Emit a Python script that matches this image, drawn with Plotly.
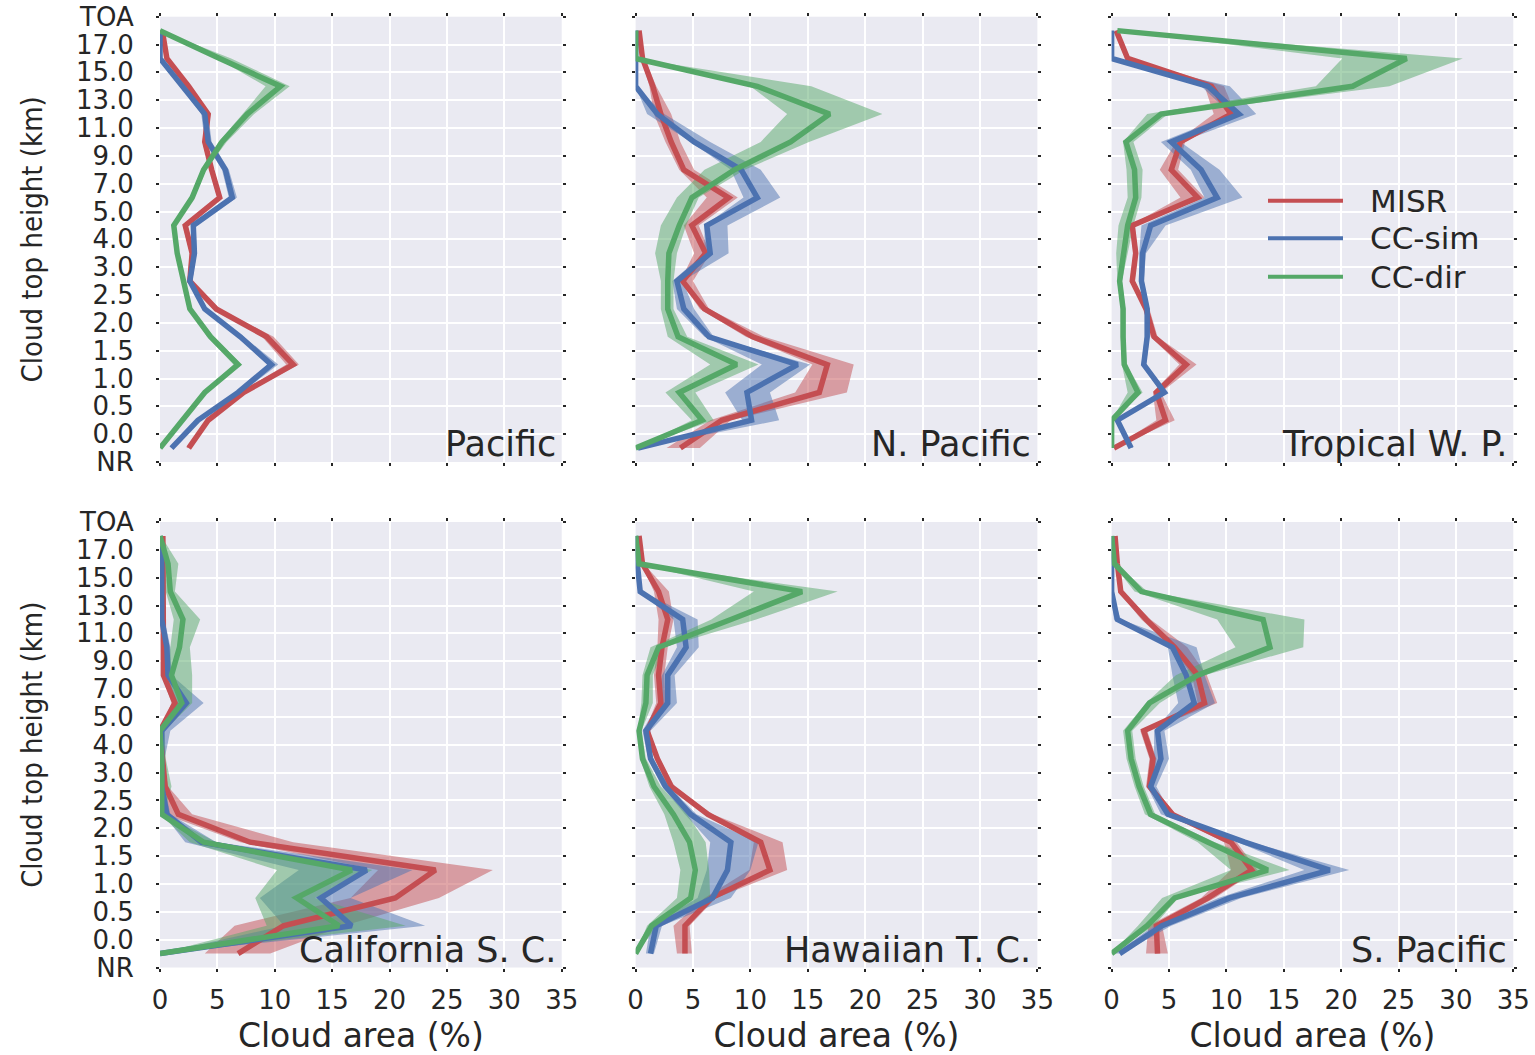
import plotly.graph_objects as go
from plotly.subplots import make_subplots

# ---------------- data ----------------
height_labels = ["NR", "0.0", "0.5", "1.0", "1.5", "2.0", "2.5", "3.0", "4.0",
                 "5.0", "7.0", "9.0", "11.0", "13.0", "15.0", "17.0", "TOA"]
bins = list(range(16))            # bin index: 0 = NR bin ... 15 = 17.0-TOA bin
area_ticks = [0, 5, 10, 15, 20, 25, 30, 35]
regions = ["Pacific", "N. Pacific", "Tropical W. P.",
           "California S. C.", "Hawaiian T. C.", "S. Pacific"]
series_names = ["MISR", "CC-sim", "CC-dir"]

# Pacific
pac_misr    = [2.5, 4.2, 7.3, 11.6, 9.3, 4.9, 2.6, 2.8, 2.2, 5.2, 4.5, 3.9, 4.2, 2.5, 0.6, 0.2]
pac_misr_lo = [2.3, 4.0, 7.0, 11.0, 8.9, 4.6, 2.4, 2.6, 2.0, 5.0, 4.3, 3.7, 4.0, 2.3, 0.5, 0.1]
pac_misr_hi = [2.7, 4.4, 7.6, 12.1, 9.9, 5.2, 2.8, 3.0, 2.4, 5.4, 4.7, 4.1, 4.4, 2.7, 0.7, 0.3]
pac_sim     = [1.0, 3.3, 6.8, 9.7, 7.0, 3.9, 2.6, 3.0, 2.9, 6.3, 5.7, 4.2, 3.9, 2.0, 0.0, 0.0]
pac_sim_lo  = [0.9, 3.1, 6.6, 9.4, 6.8, 3.7, 2.4, 2.8, 2.7, 6.0, 5.4, 3.9, 3.6, 1.8, 0.0, 0.0]
pac_sim_hi  = [1.1, 3.5, 7.1, 10.3, 7.3, 4.1, 2.8, 3.2, 3.1, 6.7, 6.0, 4.5, 4.2, 2.2, 0.1, 0.0]
pac_dir     = [0.0, 2.0, 3.9, 6.8, 4.4, 2.6, 2.0, 1.5, 1.2, 2.8, 3.8, 5.4, 7.6, 10.5, 5.2, 0.0]
pac_dir_lo  = [0.0, 1.9, 3.7, 6.4, 4.1, 2.5, 1.9, 1.4, 1.1, 2.6, 3.6, 5.1, 7.2, 9.2, 5.0, 0.0]
pac_dir_hi  = [0.0, 2.1, 4.1, 7.1, 4.7, 2.7, 2.1, 1.6, 1.3, 3.0, 4.0, 5.8, 8.2, 11.3, 6.2, 0.0]

# N. Pacific
npac_misr    = [3.9, 7.5, 16.0, 16.7, 10.2, 6.0, 4.1, 6.1, 4.9, 8.1, 4.2, 3.1, 2.2, 1.5, 0.6, 0.3]
npac_misr_lo = [2.7, 6.5, 13.9, 15.4, 9.6, 5.6, 3.9, 5.1, 4.2, 6.2, 3.8, 2.6, 1.6, 1.2, 0.5, 0.2]
npac_misr_hi = [5.6, 8.3, 18.4, 19.0, 11.2, 6.4, 5.0, 6.5, 5.5, 8.9, 5.1, 3.9, 3.1, 1.8, 0.8, 0.4]
npac_sim     = [0.2, 10.1, 9.7, 14.1, 6.4, 4.2, 3.6, 6.5, 6.2, 10.6, 9.2, 5.1, 1.9, 0.0, 0.0, 0.0]
npac_sim_lo  = [0.1, 9.3, 7.8, 11.0, 6.0, 3.6, 3.2, 6.0, 6.0, 9.4, 8.3, 4.8, 1.0, 0.0, 0.0, 0.0]
npac_sim_hi  = [0.3, 12.5, 11.7, 15.2, 6.8, 5.1, 4.1, 8.1, 8.0, 12.6, 10.9, 6.5, 2.5, 0.0, 0.0, 0.0]
npac_dir     = [0.0, 5.8, 3.8, 8.8, 3.7, 2.8, 2.8, 2.9, 3.8, 4.9, 8.6, 13.5, 16.9, 10.6, 0.0, 0.0]
npac_dir_lo  = [0.0, 4.9, 2.6, 6.5, 2.8, 2.2, 2.2, 1.7, 2.2, 3.6, 6.0, 10.9, 13.2, 10.0, 0.0, 0.0]
npac_dir_hi  = [0.0, 6.8, 5.2, 10.7, 4.5, 3.3, 3.3, 3.6, 4.4, 5.5, 9.5, 15.1, 21.5, 15.3, 0.0, 0.0]

# Tropical W. P.
twp_misr    = [0.2, 4.7, 3.9, 6.5, 3.7, 3.0, 1.8, 2.1, 1.8, 7.5, 5.2, 6.0, 10.4, 8.7, 1.4, 0.4]
twp_misr_lo = [0.1, 3.9, 3.6, 5.9, 3.4, 2.8, 1.6, 1.9, 1.6, 6.0, 4.2, 5.6, 8.9, 8.1, 1.2, 0.3]
twp_misr_hi = [0.3, 5.5, 4.3, 7.4, 4.0, 3.3, 2.0, 2.3, 2.0, 8.1, 5.8, 6.4, 10.8, 9.8, 1.6, 0.5]
twp_sim     = [1.7, 0.5, 4.6, 2.8, 3.1, 3.1, 2.6, 2.7, 3.4, 9.2, 7.8, 5.2, 11.1, 8.4, 0.0, 0.0]
twp_sim_lo  = [1.5, 0.4, 4.3, 2.6, 2.9, 2.9, 2.4, 2.4, 2.6, 8.1, 6.9, 4.3, 10.4, 7.8, 0.0, 0.0]
twp_sim_hi  = [1.9, 0.6, 4.9, 3.0, 3.3, 3.3, 2.8, 3.0, 4.7, 11.4, 9.4, 6.0, 12.6, 10.3, 0.0, 0.0]
twp_dir     = [0.0, 0.0, 2.3, 1.1, 1.0, 1.0, 0.7, 1.0, 1.4, 2.1, 2.0, 1.25, 4.3, 21.0, 25.7, 0.5]
twp_dir_lo  = [0.0, 0.0, 1.4, 0.9, 0.8, 0.8, 0.5, 0.4, 0.6, 1.4, 1.3, 1.0, 3.1, 17.8, 20.1, 0.4]
twp_dir_hi  = [0.0, 0.0, 2.7, 1.3, 1.2, 1.2, 0.9, 1.4, 1.9, 2.6, 2.7, 1.9, 4.9, 24.2, 30.6, 0.6]

# California S. C.
csc_misr    = [6.8, 10.75, 20.5, 24.0, 7.85, 1.6, 0.45, 0.2, 0.0, 1.3, 0.3, 0.3, 0.3, 0.3, 0.3, 0.25]
csc_misr_lo = [3.9, 6.5, 16.6, 19.0, 7.0, 0.4, 0.2, 0.1, 0.0, 1.0, 0.2, 0.2, 0.2, 0.2, 0.2, 0.2]
csc_misr_hi = [9.6, 16.0, 24.3, 29.0, 11.6, 2.8, 0.7, 0.3, 0.1, 1.6, 0.4, 0.4, 0.4, 0.4, 0.4, 0.3]
csc_sim     = [0.0, 16.7, 14.0, 18.0, 3.6, 0.6, 0.15, 0.15, 0.15, 2.3, 0.7, 0.6, 0.15, 0.15, 0.15, 0.0]
csc_sim_lo  = [0.0, 10.8, 8.7, 12.1, 2.2, 0.3, 0.0, 0.0, 0.0, 1.5, 0.4, 0.3, 0.0, 0.0, 0.0, 0.0]
csc_sim_hi  = [0.1, 23.1, 16.6, 22.0, 4.9, 0.9, 0.4, 0.4, 0.9, 3.8, 1.0, 0.9, 0.4, 0.3, 0.3, 0.1]
csc_dir     = [0.0, 15.6, 11.9, 16.7, 3.8, 0.15, 0.15, 0.15, 0.0, 1.9, 1.0, 1.7, 2.0, 0.9, 0.7, 0.0]
csc_dir_lo  = [0.0, 9.3, 8.3, 10.2, 2.6, 0.0, 0.0, 0.0, 0.0, 1.2, 0.6, 0.9, 1.2, 0.5, 0.0, 0.0]
csc_dir_hi  = [0.1, 21.4, 13.5, 18.5, 4.9, 0.3, 1.0, 0.5, 0.4, 2.8, 2.8, 2.6, 3.5, 1.3, 1.6, 0.1]

# Hawaiian T. C.
htc_misr    = [4.3, 4.3, 6.6, 11.7, 10.9, 6.3, 3.1, 1.9, 1.0, 2.2, 2.0, 2.3, 2.8, 2.0, 0.6, 0.3]
htc_misr_lo = [3.6, 3.3, 6.0, 9.9, 10.3, 6.0, 2.9, 1.7, 0.8, 1.8, 1.6, 1.9, 2.0, 1.6, 0.5, 0.2]
htc_misr_hi = [4.9, 4.7, 7.0, 13.2, 12.8, 6.7, 3.4, 2.1, 1.2, 2.6, 2.5, 2.8, 3.3, 2.9, 0.7, 0.4]
htc_sim     = [1.3, 1.8, 6.7, 8.0, 8.3, 4.8, 2.6, 1.3, 0.9, 2.8, 2.8, 4.4, 4.1, 0.4, 0.15, 0.0]
htc_sim_lo  = [0.9, 1.3, 5.4, 6.2, 6.5, 4.3, 2.3, 1.1, 0.6, 2.0, 2.3, 3.6, 3.3, 0.3, 0.1, 0.0]
htc_sim_hi  = [1.6, 2.3, 8.3, 10.0, 10.7, 5.3, 2.9, 1.5, 1.3, 3.6, 3.4, 5.5, 5.4, 0.6, 0.2, 0.1]
htc_dir     = [0.0, 1.4, 4.8, 5.2, 4.7, 3.3, 1.6, 0.6, 0.3, 0.9, 1.0, 2.0, 8.3, 14.5, 0.3, 0.0]
htc_dir_lo  = [0.0, 1.0, 3.6, 3.9, 3.3, 2.5, 1.2, 0.4, 0.2, 0.5, 0.6, 1.3, 6.6, 10.3, 0.2, 0.0]
htc_dir_hi  = [0.1, 1.9, 6.5, 6.4, 6.1, 4.5, 2.2, 0.9, 0.5, 1.5, 1.5, 2.5, 10.5, 17.6, 0.4, 0.1]

# S. Pacific
spac_misr    = [4.0, 3.9, 8.4, 12.2, 10.4, 5.3, 3.3, 3.6, 2.8, 8.1, 7.5, 5.5, 3.0, 0.8, 0.5, 0.3]
spac_misr_lo = [3.0, 3.2, 7.8, 10.4, 9.8, 5.0, 3.0, 3.3, 2.5, 7.5, 7.0, 5.2, 2.6, 0.6, 0.4, 0.2]
spac_misr_hi = [4.9, 4.4, 9.0, 12.7, 10.9, 5.6, 3.6, 3.9, 3.1, 9.2, 8.3, 6.6, 3.4, 1.0, 0.6, 0.4]
spac_sim     = [0.7, 4.4, 10.3, 19.0, 11.6, 4.9, 3.4, 4.3, 4.0, 7.2, 6.5, 5.3, 0.5, 0.0, 0.0, 0.0]
spac_sim_lo  = [0.3, 3.7, 9.3, 16.8, 11.0, 4.3, 3.1, 3.7, 3.7, 5.8, 5.3, 4.9, 0.2, 0.0, 0.0, 0.0]
spac_sim_hi  = [0.9, 5.2, 11.3, 20.7, 12.2, 5.2, 3.9, 5.0, 4.6, 9.0, 8.1, 7.4, 0.8, 0.0, 0.0, 0.0]
spac_dir     = [0.0, 3.1, 5.5, 13.6, 8.4, 3.4, 2.4, 1.7, 1.4, 3.3, 7.5, 13.8, 13.2, 2.6, 0.25, 0.0]
spac_dir_lo  = [0.0, 2.3, 4.4, 10.4, 7.5, 2.9, 2.0, 1.3, 1.0, 3.0, 5.6, 10.8, 9.2, 2.0, 0.1, 0.0]
spac_dir_hi  = [0.0, 3.7, 5.8, 15.5, 9.0, 3.8, 2.8, 2.1, 1.8, 4.2, 8.1, 16.7, 16.8, 3.1, 0.4, 0.0]

panel_data = {
    "Pacific": [(pac_misr, pac_misr_lo, pac_misr_hi), (pac_sim, pac_sim_lo, pac_sim_hi),
                (pac_dir, pac_dir_lo, pac_dir_hi)],
    "N. Pacific": [(npac_misr, npac_misr_lo, npac_misr_hi), (npac_sim, npac_sim_lo, npac_sim_hi),
                   (npac_dir, npac_dir_lo, npac_dir_hi)],
    "Tropical W. P.": [(twp_misr, twp_misr_lo, twp_misr_hi), (twp_sim, twp_sim_lo, twp_sim_hi),
                       (twp_dir, twp_dir_lo, twp_dir_hi)],
    "California S. C.": [(csc_misr, csc_misr_lo, csc_misr_hi), (csc_sim, csc_sim_lo, csc_sim_hi),
                         (csc_dir, csc_dir_lo, csc_dir_hi)],
    "Hawaiian T. C.": [(htc_misr, htc_misr_lo, htc_misr_hi), (htc_sim, htc_sim_lo, htc_sim_hi),
                       (htc_dir, htc_dir_lo, htc_dir_hi)],
    "S. Pacific": [(spac_misr, spac_misr_lo, spac_misr_hi), (spac_sim, spac_sim_lo, spac_sim_hi),
                   (spac_dir, spac_dir_lo, spac_dir_hi)],
}

# ---------------- styling ----------------
line_colors = ["#C44E52", "#4C72B0", "#55A868"]
band_colors = ["rgba(196,78,82,0.5)", "rgba(76,114,176,0.5)", "rgba(85,168,104,0.5)"]
TXT = "#262626"
MAIN_FONT = "DejaVu Sans"
NARROW_FONT = "Liberation Sans Narrow, Arial Narrow, DejaVu Sans Condensed, sans-serif"

W, H = 1535, 1055
col_px = [(160.0, 561.7), (635.6, 1037.4), (1111.6, 1513.3)]
row_px = [(16.7, 462.0), (522.0, 967.5)]

fig = make_subplots(rows=2, cols=3)

for k, region in enumerate(regions):
    r, c = k // 3 + 1, k % 3 + 1
    series = panel_data[region]
    for s, (vals, lo, hi) in enumerate(series):
        fig.add_trace(go.Scatter(
            x=lo + hi[::-1], y=bins + bins[::-1], fill="toself",
            fillcolor=band_colors[s], line=dict(width=0), mode="lines",
            hoverinfo="skip", showlegend=False), row=r, col=c)
    for s, (vals, lo, hi) in enumerate(series):
        fig.add_trace(go.Scatter(
            x=vals, y=bins, mode="lines", name=series_names[s],
            legendgroup=series_names[s],
            line=dict(color=line_colors[s], width=5.5),
            showlegend=False), row=r, col=c)

layout_updates = {}
for k in range(6):
    r, c = k // 3, k % 3
    suffix = "" if k == 0 else str(k + 1)
    x0, x1 = col_px[c]
    y0, y1 = row_px[r]
    layout_updates["xaxis" + suffix] = dict(
        domain=[x0 / W, x1 / W], range=[0, 35], tickvals=area_ticks,
        ticktext=[str(v) for v in area_ticks],
        showticklabels=(r == 1), showgrid=True, gridcolor="white", gridwidth=2,
        zeroline=False, showline=False, ticks="outside", ticklen=3, tickwidth=1.5,
        tickcolor=TXT, mirror="ticks", ticklabelstandoff=6,
        tickfont=dict(family=MAIN_FONT, size=26, color=TXT),
        automargin=False,
        title=dict(text="Cloud area (%)" if r == 1 else "",
                   font=dict(family=MAIN_FONT, size=33, color=TXT), standoff=12),
    )
    layout_updates["yaxis" + suffix] = dict(
        domain=[1 - y1 / H, 1 - y0 / H], range=[-0.5, 15.5],
        tickvals=[i - 0.5 for i in range(17)], ticktext=height_labels,
        showticklabels=(c == 0), showgrid=True, gridcolor="white", gridwidth=2,
        zeroline=False, showline=False, ticks="outside", ticklen=3, tickwidth=1.5,
        tickcolor=TXT, mirror="ticks", ticklabelstandoff=17,
        tickfont=dict(family=MAIN_FONT, size=26, color=TXT),
        automargin=False,
        title=dict(text="Cloud top height (km)" if c == 0 else "",
                   font=dict(family=NARROW_FONT, size=29, color=TXT), standoff=24),
    )
fig.update_layout(**layout_updates)

annotations = []
for k, region in enumerate(regions):
    suffix = "" if k == 0 else str(k + 1)
    annotations.append(dict(
        text=region, xref="x" + suffix + " domain", yref="y" + suffix + " domain",
        x=0.99, y=0.04, xanchor="right", yanchor="middle", showarrow=False,
        font=dict(family=MAIN_FONT, size=35, color=TXT)))

# legend drawn in the Tropical W. P. panel
legend_rows_px = [200.7, 238.3, 276.7]
shapes = []
for s, name in enumerate(series_names):
    yp = 1 - legend_rows_px[s] / H
    shapes.append(dict(type="line", xref="paper", yref="paper",
                       x0=1268 / W, x1=1343 / W, y0=yp, y1=yp,
                       line=dict(color=line_colors[s], width=4)))
    annotations.append(dict(text=name, xref="paper", yref="paper",
                            x=1368 / W, y=yp, xanchor="left", yanchor="middle",
                            showarrow=False,
                            font=dict(family=MAIN_FONT, size=31, color=TXT)))

fig.update_layout(
    width=W, height=H, margin=dict(l=0, r=0, t=0, b=0),
    paper_bgcolor="white", plot_bgcolor="#EAEAF2",
    showlegend=False, annotations=annotations, shapes=shapes,
)

fig.write_html("out.html")
